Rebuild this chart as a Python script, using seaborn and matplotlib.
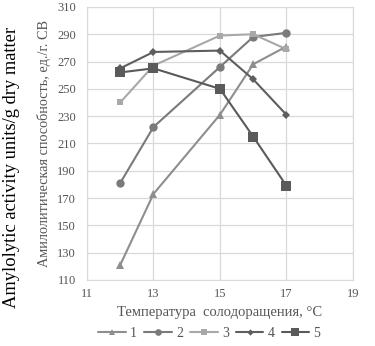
import matplotlib
matplotlib.use("Agg")
from matplotlib import pyplot as plt
import seaborn as sns
import pandas as pd

temps = [12, 13, 15, 16, 17]
s1 = [121, 173, 231, 268, 281]
s2 = [181, 222, 266, 288, 291]
s3 = [240, 267, 289, 290, 279]
s4 = [265, 277, 278, 257, 231]
s5 = [262, 265, 250, 215, 179]
names = ["1", "2", "3", "4", "5"]

df = pd.DataFrame({"t": temps * 5,
                   "v": s1 + s2 + s3 + s4 + s5,
                   "series": [n for n in names for _ in temps]})

sns.set_style("white")
plt.rcParams["font.family"] = ["Liberation Serif", "DejaVu Serif"]

colors = ["#8e8e8e", "#7a7a7a", "#a8a8a8", "#5e5e5e", "#5a5a5a"]
markers = ["^", "o", "s", "D", "s"]
sizes = [6, 6, 5, 4, 7]

fig = plt.figure(figsize=(3.75, 3.46), dpi=100)
ax = fig.add_axes([0.232, 0.191, 0.709, 0.789])

for i, n in enumerate(names):
    sns.lineplot(data=df[df.series == n], x="t", y="v", ax=ax, color=colors[i],
                 marker=markers[i], markersize=sizes[i], markeredgewidth=0,
                 linewidth=1.5, label=n)

ax.set_xlim(11, 19)
ax.set_ylim(110, 310)
ax.set_xticks([11, 13, 15, 17, 19])
ax.set_yticks(range(110, 311, 20))
ax.tick_params(length=0, labelsize=9, colors="#555555")
ax.tick_params(axis="x", pad=6)
ax.tick_params(axis="y", pad=8)
ax.grid(True, color="#d9d9d9", linewidth=0.9)
for sp in ax.spines.values():
    sp.set_color("#d9d9d9")

ax.set_xlabel("Температура  солодоращения, °C", fontsize=10.5, color="#555555", labelpad=4)
ax.set_ylabel("Амилолитическая способность, ед./г. СВ", fontsize=10.3, color="#555555", labelpad=4)
fig.text(0.03, 0.515, "Amylolytic activity units/g dry matter", rotation=90,
         fontsize=13.3, ha="center", va="center", color="black")

ax.legend(loc="center", bbox_to_anchor=(0.46, -0.195), ncol=5, frameon=False,
          fontsize=10, handlelength=2.0, columnspacing=0.5, handletextpad=0.3,
          markerscale=0.8, labelcolor="#555555")

fig.savefig("out.png", dpi=100)
